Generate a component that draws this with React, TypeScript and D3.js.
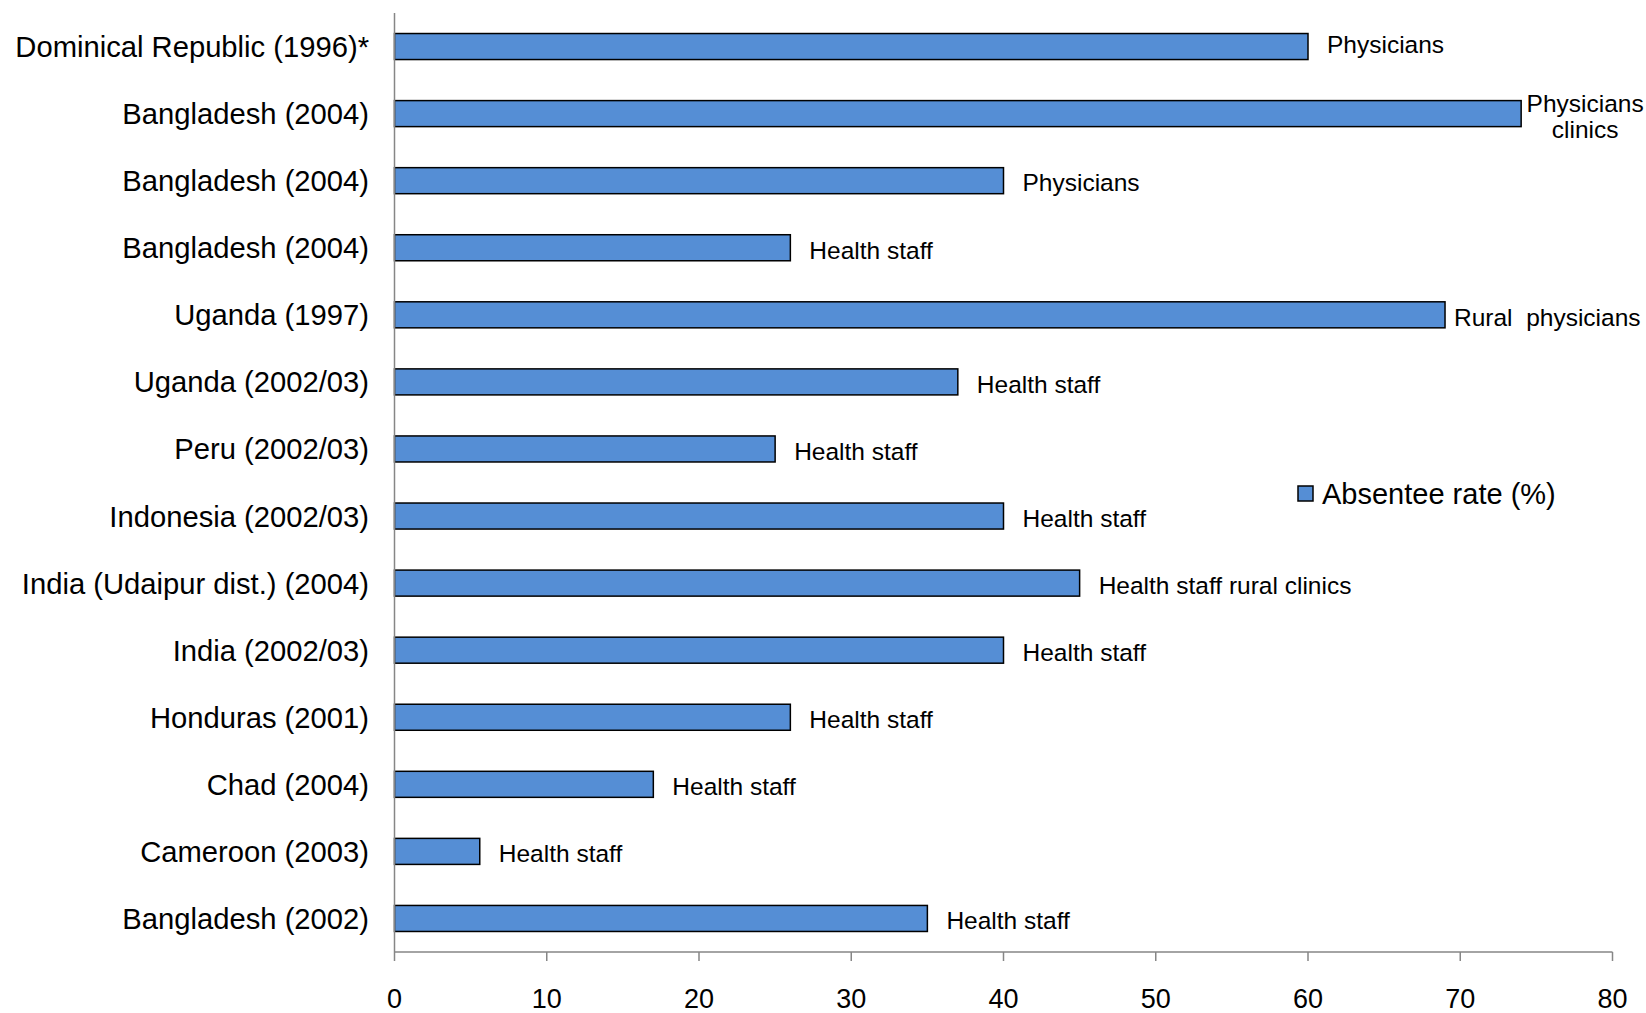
import React from "react";
import * as d3 from "d3";

const categories = [
  "Dominical Republic (1996)*",
  "Bangladesh (2004)",
  "Bangladesh (2004)",
  "Bangladesh (2004)",
  "Uganda (1997)",
  "Uganda (2002/03)",
  "Peru (2002/03)",
  "Indonesia (2002/03)",
  "India (Udaipur dist.) (2004)",
  "India (2002/03)",
  "Honduras (2001)",
  "Chad (2004)",
  "Cameroon (2003)",
  "Bangladesh (2002)",
];

const absenteeRate = [60, 74, 40, 26, 69, 37, 25, 40, 45, 40, 26, 17, 5.6, 35];

const barLabels = [
  ["Physicians"],
  ["Physicians", "clinics"],
  ["Physicians"],
  ["Health staff"],
  ["Rural  physicians"],
  ["Health staff"],
  ["Health staff"],
  ["Health staff"],
  ["Health staff rural clinics"],
  ["Health staff"],
  ["Health staff"],
  ["Health staff"],
  ["Health staff"],
  ["Health staff"],
];

const xTicks = [0, 10, 20, 30, 40, 50, 60, 70, 80];
const legendLabel = "Absentee rate (%)";

const W = 1646;
const H = 1013;
const left = 394.5;
const right = 1612.5;
const top = 13;
const bottom = 952;
const FONT = "'Liberation Sans', Arial, sans-serif";
const BAR_FILL = "#558ED5";
const AXIS = "#868686";

export default function App() {
  const x = d3.scaleLinear().domain([0, 80]).range([left, right]);
  const y = d3
    .scaleBand<number>()
    .domain(d3.range(categories.length))
    .range([top, bottom])
    .paddingInner(0.612)
    .paddingOuter(0.306);
  const bh = y.bandwidth();

  return (
    <svg
      width={W}
      height={H}
      style={{ position: "absolute", left: 0, top: 0, background: "#fff" }}
      fontFamily={FONT}
    >
      <rect x={0} y={0} width={W} height={H} fill="#fff" />
      {absenteeRate.map((v, i) => (
        <rect
          key={"b" + i}
          x={x(0)}
          y={y(i)!}
          width={x(v) - x(0)}
          height={bh}
          fill={BAR_FILL}
          stroke="#000"
          strokeWidth={1.5}
        />
      ))}
      <line x1={left} x2={left} y1={top} y2={bottom} stroke={AXIS} strokeWidth={1.5} />
      <line x1={left} x2={right} y1={bottom} y2={bottom} stroke={AXIS} strokeWidth={1.5} />
      {xTicks.map((t) => (
        <g key={"t" + t}>
          <line x1={x(t)} x2={x(t)} y1={bottom} y2={bottom + 9} stroke={AXIS} strokeWidth={1.5} />
          <text x={x(t)} y={bottom + 56} textAnchor="middle" fontSize={27} fill="#000">
            {t}
          </text>
        </g>
      ))}
      {categories.map((c, i) => (
        <text
          key={"c" + i}
          x={369}
          y={y(i)! + bh / 2}
          dy="0.36em"
          textAnchor="end"
          fontSize={29.2}
          fill="#000"
        >
          {c}
        </text>
      ))}
      {barLabels.map((lines, i) => {
        const cy = y(i)! + bh / 2;
        const xe = x(absenteeRate[i]);
        if (lines.length > 1) {
          const cx = xe + 64;
          return (
            <text key={"l" + i} textAnchor="middle" fontSize={24.5} fill="#000">
              {lines.map((ln, k) => (
                <tspan key={k} x={cx} y={cy - 2 + k * 26}>
                  {ln}
                </tspan>
              ))}
            </text>
          );
        }
        const off = lines[0].startsWith("Rural") ? 9 : 19;
        const dyAdj = i === 0 ? -2 : 2;
        return (
          <text
            key={"l" + i}
            x={xe + off}
            y={cy + dyAdj}
            dy="0.36em"
            fontSize={24.5}
            fill="#000"
            style={{ whiteSpace: "pre" }}
          >
            {lines[0]}
          </text>
        );
      })}
      <rect x={1298} y={486} width={15} height={15} fill={BAR_FILL} stroke="#000" strokeWidth={1.5} />
      <text x={1322} y={504} fontSize={29} fill="#000">
        {legendLabel}
      </text>
    </svg>
  );
}
